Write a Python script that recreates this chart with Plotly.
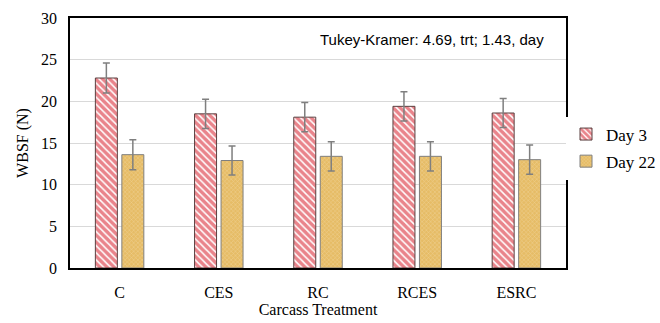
import plotly.graph_objects as go

# Warner-Bratzler shear force by carcass treatment and aging day
treatments = ["C", "CES", "RC", "RCES", "ESRC"]
day3_wbsf = [22.8, 18.5, 18.1, 19.4, 18.6]
day3_err = [1.8, 1.75, 1.75, 1.75, 1.75]
day22_wbsf = [13.6, 12.9, 13.4, 13.4, 13.0]
day22_err = [1.8, 1.75, 1.75, 1.75, 1.75]
y_ticks = [0, 5, 10, 15, 20, 25, 30]

serif = "Liberation Serif"

fig = go.Figure()
fig.add_trace(go.Bar(
    name="Day 3", x=treatments, y=day3_wbsf, legendgroup="d3",
    error_y=dict(type="data", array=day3_err, color="#7f7f7f", thickness=1.5, width=3.5),
    marker=dict(
        color="white",
        line=dict(color="#5a4040", width=1),
        pattern=dict(shape="\\", fgcolor="#D40A18", bgcolor="white", size=5, solidity=0.7),
    ),
))
fig.add_trace(go.Bar(
    name="Day 22", x=treatments, y=day22_wbsf, legendgroup="d22",
    error_y=dict(type="data", array=day22_err, color="#7f7f7f", thickness=1.5, width=3.5),
    marker=dict(
        color="#E8C274",
        line=dict(color="#7f7f7f", width=1),
        pattern=dict(shape="x", fgcolor="#F8E7BE", bgcolor="#E6BC66", size=3, solidity=0.3),
    ),
))

fig.add_annotation(
    text="Tukey-Kramer: 4.69, trt; 1.43, day",
    xref="paper", yref="paper", x=0.96, y=0.915, xanchor="right", yanchor="middle",
    showarrow=False, font=dict(family="Liberation Sans", size=15, color="black"),
)

fig.update_layout(
    width=660, height=323,
    margin=dict(l=70, r=94, t=18, b=55, autoexpand=False),
    paper_bgcolor="white", plot_bgcolor="white",
    barmode="group", bargap=0.466, bargroupgap=0.17,
    font=dict(family=serif, size=16, color="black"),
    legend=dict(
        x=1.0, y=0.48, xanchor="left", yanchor="middle",
        font=dict(family=serif, size=17), tracegroupgap=2,
        itemwidth=30,
    ),
    xaxis=dict(
        showline=True, linecolor="black", linewidth=1.5, mirror=True,
        ticks="outside", ticklen=9, tickcolor="rgba(0,0,0,0)",
        tickfont=dict(family=serif, size=16),
        title=dict(text="Carcass Treatment", font=dict(family=serif, size=16), standoff=3),
    ),
    yaxis=dict(
        range=[0, 30], tickvals=y_ticks,
        showline=True, linecolor="black", linewidth=1.5, mirror=True,
        showgrid=True, gridcolor="#d9d9d9", gridwidth=1,
        ticks="outside", ticklen=8, tickcolor="rgba(0,0,0,0)",
        tickfont=dict(family=serif, size=16),
        title=dict(text="WBSF (N)", font=dict(family=serif, size=16), standoff=8),
    ),
)

fig.write_html("out.html")
